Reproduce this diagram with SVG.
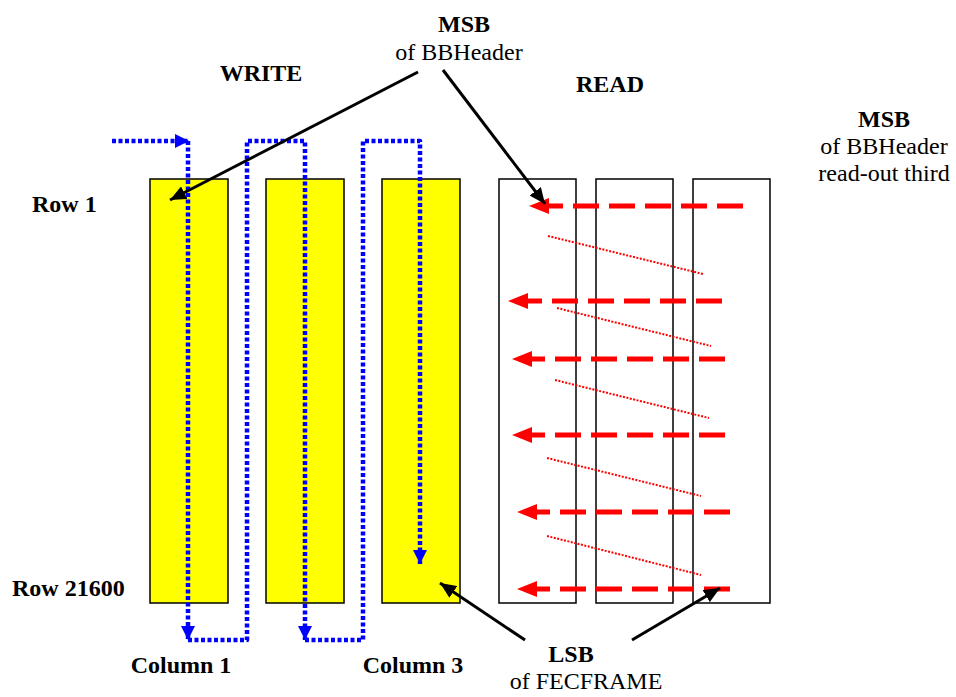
<svg xmlns="http://www.w3.org/2000/svg" width="956" height="697" viewBox="0 0 956 697">
<style>
text{font-size:24px;fill:#000}
.b{font-weight:bold}
.ybox{fill:#FFFF00;stroke:#000;stroke-width:1.5}
.wbox{fill:#FFFFFF;stroke:#000;stroke-width:1.5}
.blue{fill:none;stroke:#0000FF;stroke-width:4.5;stroke-dasharray:4 2.5;stroke-linejoin:round}
.blk{fill:none;stroke:#000;stroke-width:3}
.rd{fill:none;stroke:#FF0000;stroke-width:5;stroke-dasharray:26 10}
.rdot{fill:none;stroke:#FF0000;stroke-width:2;stroke-dasharray:2 1.5}
</style>
<defs>
<marker id="ab" markerUnits="userSpaceOnUse" markerWidth="16" markerHeight="14" refX="14" refY="7" orient="auto"><path d="M0,0 L14,7 L0,14 Z" fill="#0000FF"/></marker>
<marker id="ak" markerUnits="userSpaceOnUse" markerWidth="18" markerHeight="14" refX="16" refY="7" orient="auto"><path d="M0,0 L16,7 L0,14 Z" fill="#000"/></marker>
<marker id="ar" markerUnits="userSpaceOnUse" markerWidth="20" markerHeight="16" refX="20" refY="8" orient="auto"><path d="M0,0 L20,8 L0,16 Z" fill="#FF0000"/></marker>
</defs>
<g id="col1"><rect class="ybox" x="150" y="179" width="78" height="424"/></g>
<g id="col2"><rect class="ybox" x="266" y="179" width="78" height="424"/></g>
<g id="col3"><rect class="ybox" x="382" y="179" width="78" height="424"/></g>
<g id="rcol1"><rect class="wbox" x="499" y="179" width="77" height="424"/></g>
<g id="rcol2"><rect class="wbox" x="596" y="179" width="77" height="424"/></g>
<g id="rcol3"><rect class="wbox" x="693" y="179" width="77" height="424"/></g>
<g id="connectors">
<path class="blue" d="M112,141 H189" marker-end="url(#ab)"/>
<path class="blue" d="M188,141 V640" marker-end="url(#ab)"/>
<path class="blue" d="M188,640 H247 V141 H305 V640" marker-end="url(#ab)"/>
<path class="blue" d="M305,640 H363 V141 H420 V564" marker-end="url(#ab)"/>
<path class="rd" d="M743,206 H529" marker-end="url(#ar)"/>
<path class="rd" d="M722,301 H508" marker-end="url(#ar)"/>
<path class="rd" d="M725,359 H512" marker-end="url(#ar)"/>
<path class="rd" d="M725,435 H512" marker-end="url(#ar)"/>
<path class="rd" d="M730,512 H517" marker-end="url(#ar)"/>
<path class="rd" d="M730,589 H517" marker-end="url(#ar)"/>
<path class="rdot" d="M548,236 L703,274"/>
<path class="rdot" d="M557,308 L711,346"/>
<path class="rdot" d="M555,380 L709,418"/>
<path class="rdot" d="M547,458 L701,496"/>
<path class="rdot" d="M547,536 L701,575"/>
<path class="blk" d="M418,72 L170,200" marker-end="url(#ak)"/>
<path class="blk" d="M443,70 L545,204" marker-end="url(#ak)"/>
<path class="blk" d="M525,640 L440,583" marker-end="url(#ak)"/>
<path class="blk" d="M632,640 L720,588" marker-end="url(#ak)"/>
</g>
<g id="labels" font-family="Liberation Serif, Times New Roman, DejaVu Serif, serif">
<text class="b" x="464" y="32" text-anchor="middle">MSB</text>
<text x="459" y="60" text-anchor="middle">of BBHeader</text>
<text class="b" x="261" y="81" text-anchor="middle">WRITE</text>
<text class="b" x="610" y="92" text-anchor="middle">READ</text>
<text class="b" x="884" y="127" text-anchor="middle">MSB</text>
<text x="884" y="154" text-anchor="middle">of BBHeader</text>
<text x="884" y="181" text-anchor="middle">read-out third</text>
<text class="b" x="32" y="212">Row 1</text>
<text class="b" x="12" y="596">Row 21600</text>
<text class="b" x="181" y="673" text-anchor="middle">Column 1</text>
<text class="b" x="413" y="673" text-anchor="middle">Column 3</text>
<text class="b" x="571" y="662" text-anchor="middle">LSB</text>
<text x="586" y="689" text-anchor="middle">of FECFRAME</text>
</g>
</svg>
